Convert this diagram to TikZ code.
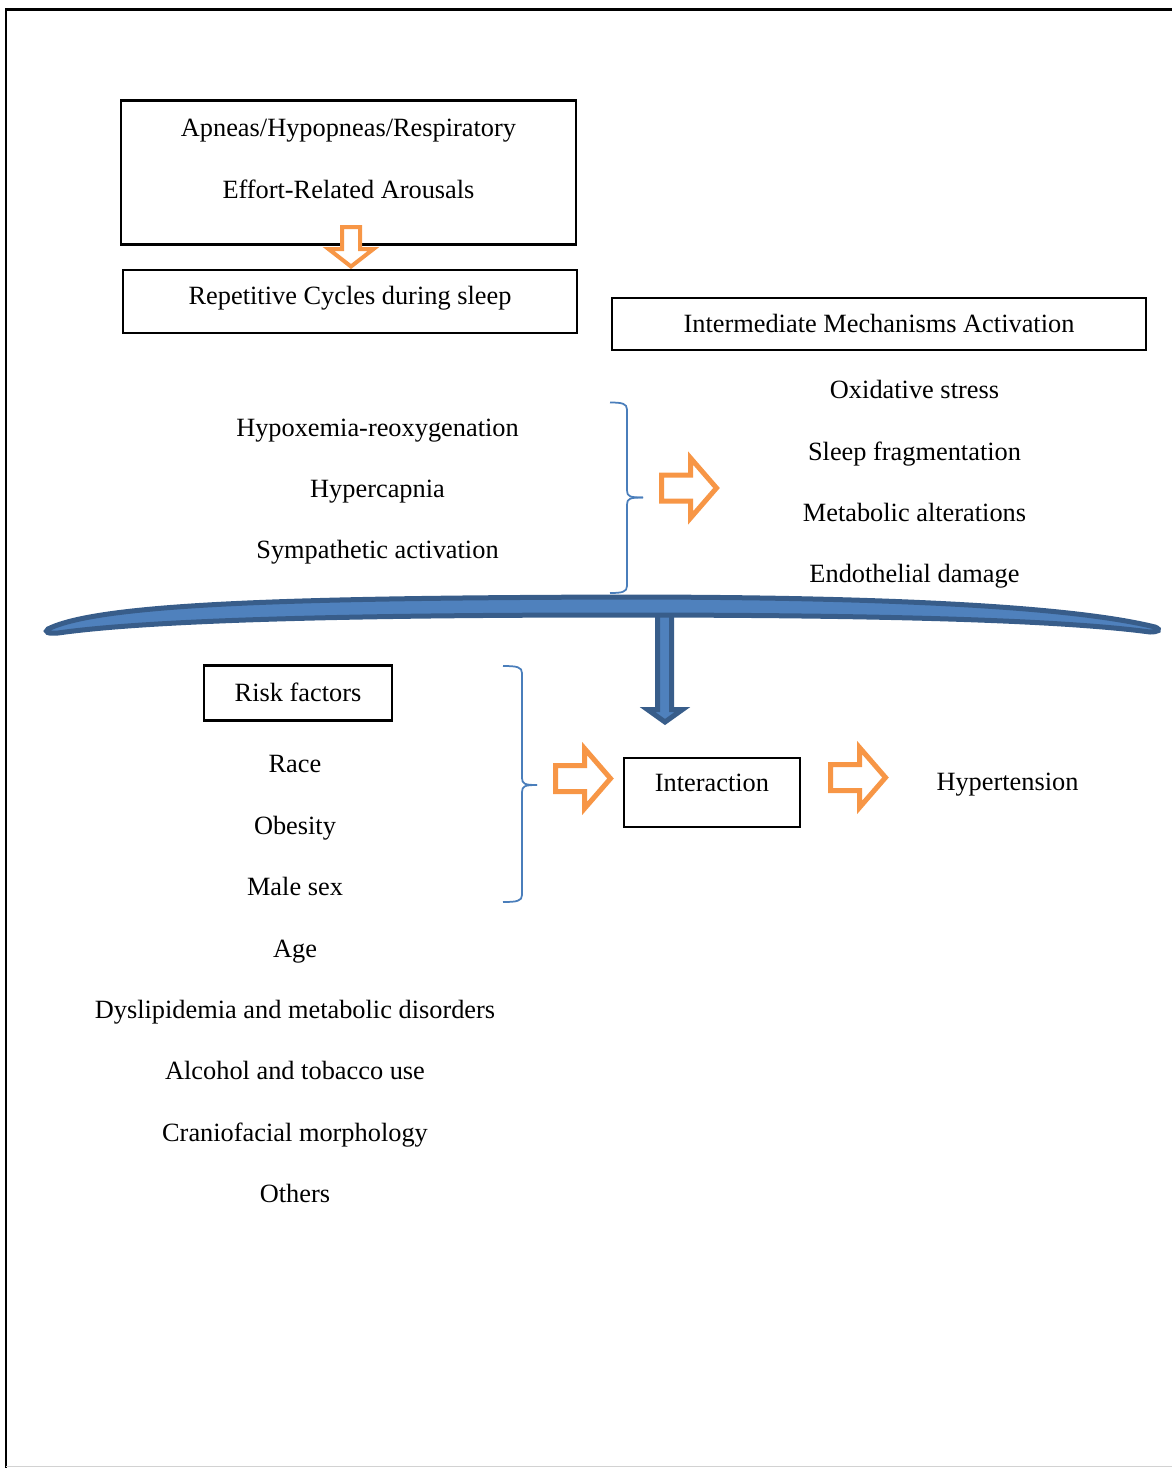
\documentclass[tikz,border=0pt]{standalone}
\usepackage{fontspec}
\setmainfont{Liberation Serif}
\usepackage{tikz}
\usetikzlibrary{positioning}
\definecolor{arroworange}{RGB}{247,150,70}
\definecolor{bardark}{RGB}{56,93,138}
\definecolor{barlight}{RGB}{79,129,189}
\definecolor{bracecolor}{RGB}{74,126,187}

\begin{document}
\begin{tikzpicture}[x=0.02cm,y=-0.02cm,
  every node/.style={font=\fontsize{15}{18}\selectfont},
  box/.style={draw=black,line width=0.045cm,inner sep=0pt},
  item/.style={inner sep=0pt,text height=0.35cm,text depth=0cm},
  brace/.style={draw=bracecolor,line width=0.035cm},
  blk/.style={draw=arroworange,line width=0.1cm,fill=white,line join=miter},
  bluearrow/.style={draw=bardark,line width=0.1cm,fill=barlight,line join=miter},
  rarrow/.pic={\path[blk] (0,-13)--(29,-13)--(29,-30)--(55,0)--(29,30)--(29,13)--(0,13)--cycle;}]
\useasboundingbox (0,0) rectangle (1172,1468);
\draw[line width=0.06cm] (6,1468) -- (6,9.5) -- (1172,9.5);
\draw[gray!35,line width=0.03cm] (6,1466.5) -- (1172,1466.5);
\node[box,minimum width=9.1cm,minimum height=2.88cm] (apnea) at (348.5,172.5)
  {\begin{tabular}{@{}c@{}}Apneas/Hypopneas/Respiratory\\[17pt]Effort-Related Arousals\\[12.75pt]\end{tabular}};
\node[box,minimum width=9.08cm,minimum height=1.26cm,text height=0.35cm,text depth=0.22cm] (cycles) at (350,301.5) {Repetitive Cycles during sleep};
\path[blk,line width=0.08cm] (342,227)--(360,227)--(360,249)--(373.5,249)--(351,266.5)--(328.5,249)--(342,249)--cycle;
\node[box,minimum width=10.68cm,minimum height=1.04cm,text height=0.35cm,text depth=0cm] (mech) at (879,324) {Intermediate Mechanisms Activation};
\foreach \t [count=\i from 0] in {Hypoxemia-reoxygenation,Hypercapnia,Sympathetic activation}{
  \node[item] (cause\i) at (377.5,{428+61*\i}) {\t};}
\foreach \t [count=\i from 0] in {Oxidative stress,Sleep fragmentation,Metabolic alterations,Endothelial damage}{
  \node[item] (effect\i) at (914.5,{390+61.3*\i}) {\t};}
\foreach \xe/\xv/\xt/\ya/\ym/\yb in {610/627/643/402.5/497.5/593,503/522/537/666/785/902}{
  \draw[brace] (\xe,\ya) .. controls ({\xv-5},\ya) and (\xv,{\ya+1}) .. (\xv,{\ya+7}) -- (\xv,{\ym-7})
    .. controls (\xv,{\ym-1}) and ({\xv+3},\ym) .. (\xt,\ym);
  \draw[brace] (\xt,\ym) .. controls ({\xv+3},\ym) and (\xv,{\ym+1}) .. (\xv,{\ym+7}) -- (\xv,{\yb-7})
    .. controls (\xv,{\yb-1}) and ({\xv-5},\yb) .. (\xe,\yb);}
\path[bluearrow] (657.5,612)--(671.5,612)--(671.5,709.5)--(682.5,709.5)--(665,722)--(647.5,709.5)--(657.5,709.5)--cycle;
\path[draw=bardark,fill=barlight,line width=0.1cm] (48,629) .. controls (100,603) and (300,598) .. (620,597)
  .. controls (880,597) and (1070,606) .. (1155,627) .. controls (1162,630) and (1158,632) .. (1150,632)
  .. controls (1060,620) and (880,615) .. (620,615) .. controls (350,615) and (150,620) .. (58,633)
  .. controls (48,634) and (44,632) .. cycle;
\node[box,minimum width=3.76cm,minimum height=1.1cm,text height=0.35cm,text depth=0cm] (risk) at (298,693) {Risk factors};
\foreach \t [count=\i from 0] in {Race,Obesity,Male sex,Age,Dyslipidemia and metabolic disorders,
  Alcohol and tobacco use,Craniofacial morphology,Others}{
  \node[item] (rf\i) at (295,{764+61.43*\i}) {\t};}
\node[box,minimum width=3.52cm,minimum height=1.38cm,text height=0.35cm,text depth=0.38cm] (inter) at (712,792.5) {Interaction};
\node[item] (hyper) at (1007.5,782) {Hypertension};
\foreach \ax/\ay in {661.5/488,555.5/778.5,830.5/777.5}{
  \pic at (\ax,\ay) {rarrow};}
\end{tikzpicture}
\end{document}
